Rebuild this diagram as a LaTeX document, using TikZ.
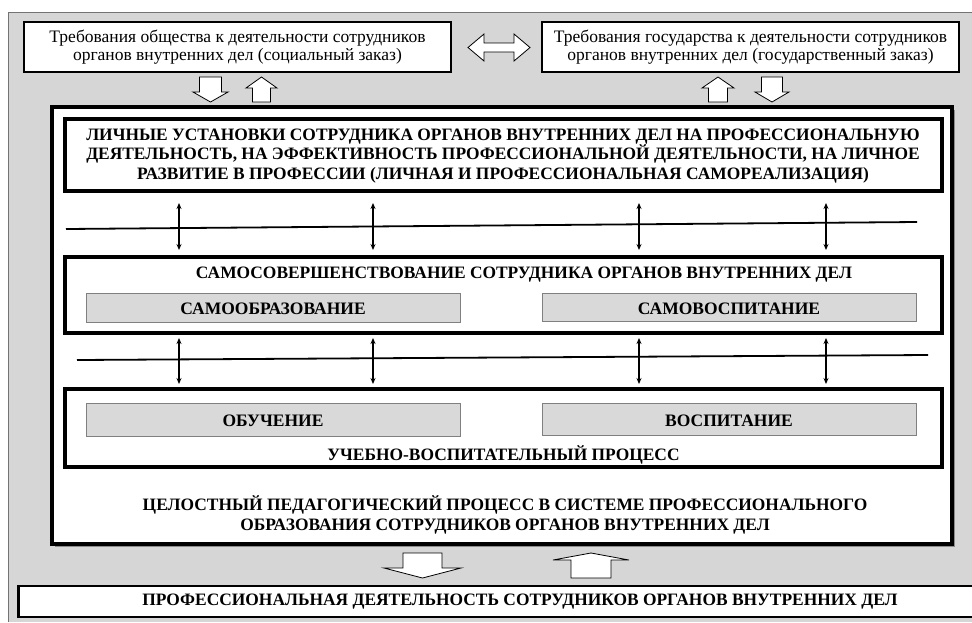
\documentclass[tikz,border=0pt]{standalone}
\usepackage{fontspec}
\setmainfont{Liberation Serif}
\usetikzlibrary{arrows.meta}
\begin{document}
\begin{tikzpicture}[x=1pt,y=-1pt,
  topbox/.style={draw, line width=2.2, fill=white, inner sep=0pt, align=center, font=\fontsize{17.5}{18.5}\selectfont},
  bigframe/.style={draw, line width=3.6, fill=white, inner sep=0pt},
  capbox/.style={draw, line width=3.4, fill=white, inner sep=0pt, align=center},
  graybox/.style={draw=black!50, line width=0.8, fill=black!15, inner sep=0pt},
  graytext/.style={inner sep=0pt, anchor=base, font=\bfseries\fontsize{17.5}{19}\selectfont},
  captext/.style={inner sep=0pt, align=center, font=\bfseries\fontsize{17.4}{19.5}\selectfont},
  hline/.style={line width=1.8},
  dblarr/.style={line width=1.1, {Stealth[length=6pt,width=5pt]}-{Stealth[length=6pt,width=5pt]}},
  blockarr/.style={draw, line width=0.8, fill=white}
]
\useasboundingbox (0,0) rectangle (972,622);
% background
\fill[black!16] (8,12) rectangle (972,622);
\draw[black!55, line width=0.8] (8,622) -- (8,12) -- (972,12);

% top boxes
\node[topbox, minimum width=427, minimum height=50] (soc) at (237.5,47)
  {Требования общества к деятельности сотрудников\\органов внутренних дел (социальный заказ)};
\node[topbox, minimum width=417, minimum height=50] (gos) at (750.5,47)
  {Требования государства к деятельности сотрудников\\органов внутренних дел (государственный заказ)};

% horizontal double block arrow
\draw[blockarr] (468,47.5) -- (484,34) -- (484,43) -- (514,43) -- (514,34) -- (530,47.5)
  -- (514,61) -- (514,52) -- (484,52) -- (484,61) -- cycle;

% small block arrows (top)
\newcommand\blkdown[6]{% cx, top, bottom, shaft hw, head hw, head length
  \draw[blockarr] (#1-#4,#2) -- (#1+#4,#2) -- (#1+#4,#3-#6) -- (#1+#5,#3-#6) -- (#1,#3)
    -- (#1-#5,#3-#6) -- (#1-#4,#3-#6) -- cycle;}
\newcommand\blkup[6]{%
  \draw[blockarr] (#1-#4,#3) -- (#1+#4,#3) -- (#1+#4,#2+#6) -- (#1+#5,#2+#6) -- (#1,#2)
    -- (#1-#5,#2+#6) -- (#1-#4,#2+#6) -- cycle;}
\blkdown{210.5}{77}{102}{11}{17.5}{10}
\blkup{261.5}{77}{102}{9}{15.5}{11}
\blkup{718}{77}{102}{9.5}{16}{11}
\blkdown{772}{77}{102}{10.5}{17}{10}

% main frame
\fill[black!45] (55,110) rectangle (955,547);
\node[bigframe, minimum width=900, minimum height=437] (main) at (502,325.5) {};

% box 1
\node[capbox, minimum width=877, minimum height=72] (lich) at (503.5,155) {};
\node[captext] (lichtxt) at (503,156)
  {ЛИЧНЫЕ УСТАНОВКИ СОТРУДНИКА ОРГАНОВ ВНУТРЕННИХ ДЕЛ НА ПРОФЕССИОНАЛЬНУЮ\\
   ДЕЯТЕЛЬНОСТЬ, НА ЭФФЕКТИВНОСТЬ ПРОФЕССИОНАЛЬНОЙ ДЕЯТЕЛЬНОСТИ, НА ЛИЧНОЕ\\
   РАЗВИТИЕ В ПРОФЕССИИ (ЛИЧНАЯ И ПРОФЕССИОНАЛЬНАЯ САМОРЕАЛИЗАЦИЯ)};

% line 1 and arrows
\coordinate (l1a) at (66,229);
\coordinate (l1b) at (917,222);
\draw[hline] (l1a) -- (l1b);
\foreach \x [count=\i] in {179,373,639,826}{
  \coordinate (u\i t) at (\x,203);
  \coordinate (u\i b) at (\x,250);
  \draw[dblarr] (u\i t) -- (u\i b);
}

% box 2
\node[capbox, minimum width=877, minimum height=76] (samo) at (503.5,295) {};
\node[captext] (samotxt) at (524,275) {САМОСОВЕРШЕНСТВОВАНИЕ СОТРУДНИКА ОРГАНОВ ВНУТРЕННИХ ДЕЛ};
\node[graybox, minimum width=374, minimum height=29] (samoobr) at (273,308) {};
\node[graybox, minimum width=374, minimum height=28] (samovos) at (729,307) {};
\node[graytext] (samoobrtxt) at (273,314.5) {САМООБРАЗОВАНИЕ};
\node[graytext] (samovostxt) at (729,314.5) {САМОВОСПИТАНИЕ};

% line 2 and arrows
\coordinate (l2a) at (77,360);
\coordinate (l2b) at (928,355);
\draw[hline] (l2a) -- (l2b);
\foreach \x [count=\i] in {179,373,639,826}{
  \coordinate (d\i t) at (\x,338);
  \coordinate (d\i b) at (\x,384);
  \draw[dblarr] (d\i t) -- (d\i b);
}

% box 3
\node[capbox, minimum width=877, minimum height=78] (uvp) at (503.5,428) {};
\node[graybox, minimum width=374, minimum height=33] (obuch) at (273,420) {};
\node[graybox, minimum width=374, minimum height=32] (vosp) at (729,419.5) {};
\node[graytext] (obuchtxt) at (273,426) {ОБУЧЕНИЕ};
\node[graytext] (vosptxt) at (729,426) {ВОСПИТАНИЕ};
\node[captext] (uvptxt) at (503.5,455) {УЧЕБНО-ВОСПИТАТЕЛЬНЫЙ ПРОЦЕСС};

% main text
\node[captext] (celtxt) at (505,515)
  {ЦЕЛОСТНЫЙ ПЕДАГОГИЧЕСКИЙ ПРОЦЕСС В СИСТЕМЕ ПРОФЕССИОНАЛЬНОГО\\
   ОБРАЗОВАНИЯ СОТРУДНИКОВ ОРГАНОВ ВНУТРЕННИХ ДЕЛ};

% bottom block arrows
\blkdown{422.5}{553}{578}{19.5}{38.5}{10}
\blkup{591}{553}{578}{20}{38}{7}

% bottom box
\node[topbox, line width=2.6, minimum width=970, minimum height=31, anchor=west] (prof) at (17,601.5) {};
\node[captext] (proftxt) at (520,602) {ПРОФЕССИОНАЛЬНАЯ ДЕЯТЕЛЬНОСТЬ СОТРУДНИКОВ ОРГАНОВ ВНУТРЕННИХ ДЕЛ};
\end{tikzpicture}
\end{document}
